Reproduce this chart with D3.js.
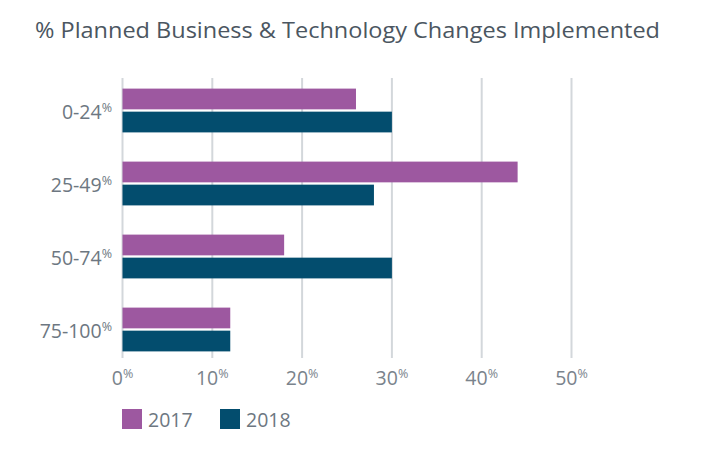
<!DOCTYPE html>
<html><head><meta charset="utf-8">
<script src="https://cdn.jsdelivr.net/npm/d3@7"></script>
<style>
html,body{margin:0;padding:0;background:#fff;}
svg{display:block;}
text{font-family:"Open Sans",sans-serif;font-variant-numeric:tabular-nums;}
</style></head>
<body>
<svg id="c" width="705" height="464"></svg>
<script>
const categories = ["0-24", "25-49", "50-74", "75-100"];
const seriesNames = ["2017", "2018"];
const values2017 = [26, 44, 18, 12];
const values2018 = [30, 28, 30, 12];
const tickValues = [0, 10, 20, 30, 40, 50];
const title = "% Planned Business & Technology Changes Implemented";

const colors = {"2017": "#9d58a0", "2018": "#034d6e"};
const svg = d3.select("#c");

const x = d3.scaleLinear().domain([0, 50]).range([122.5, 571.5]);
const y = d3.scaleBand().domain(categories).range([74, 366]).paddingInner(0.4).paddingOuter(0.2);
const yi = d3.scaleBand().domain(seriesNames).range([0, y.bandwidth()]).paddingInner(0.1);

// title
svg.append("text").attr("x", 35).attr("y", 38)
  .attr("fill", "#4b5661").attr("font-size", 22.5)
  .attr("textLength", 625).attr("lengthAdjust", "spacingAndGlyphs")
  .text(title);

// grid
svg.append("g").selectAll("line").data(tickValues).join("line")
  .attr("x1", d => x(d)).attr("x2", d => x(d))
  .attr("y1", 78).attr("y2", 358)
  .attr("stroke", "#d3d7db").attr("stroke-width", 2);

// bars
const data = categories.map((c, i) => ({c, vals: [{s: "2017", v: values2017[i]}, {s: "2018", v: values2018[i]}]}));
const g = svg.append("g").selectAll("g").data(data).join("g")
  .attr("transform", d => `translate(0,${y(d.c)})`);
g.selectAll("rect").data(d => d.vals).join("rect")
  .attr("x", x(0)).attr("y", d => yi(d.s))
  .attr("width", d => x(d.v) - x(0)).attr("height", yi.bandwidth())
  .attr("fill", d => colors[d.s]);

// category labels
const lab = svg.append("g").selectAll("text").data(categories).join("text")
  .attr("x", 112).attr("y", d => y(d) + y.bandwidth() / 2 + 8)
  .attr("text-anchor", "end").attr("fill", "#6d7781").attr("font-size", 19.5);
lab.append("tspan").text(d => d);
lab.append("tspan").attr("font-size", 12.5).attr("dy", -7).text("%");

// x tick labels
const tl = svg.append("g").selectAll("text").data(tickValues).join("text")
  .attr("x", d => x(d)).attr("y", 385)
  .attr("text-anchor", "middle").attr("fill", "#7a838c").attr("font-size", 19.5);
tl.append("tspan").text(d => d);
tl.append("tspan").attr("font-size", 12.5).attr("dy", -7).text("%");

// legend
const leg = svg.append("g").selectAll("g").data(seriesNames).join("g")
  .attr("transform", (d, i) => `translate(${122 + i * 98},409)`);
leg.append("rect").attr("width", 20).attr("height", 20).attr("fill", d => colors[d]);
leg.append("text").attr("x", 26).attr("y", 18).attr("fill", "#6d7781").attr("font-size", 19.5).text(d => d);
</script>
</body></html>
